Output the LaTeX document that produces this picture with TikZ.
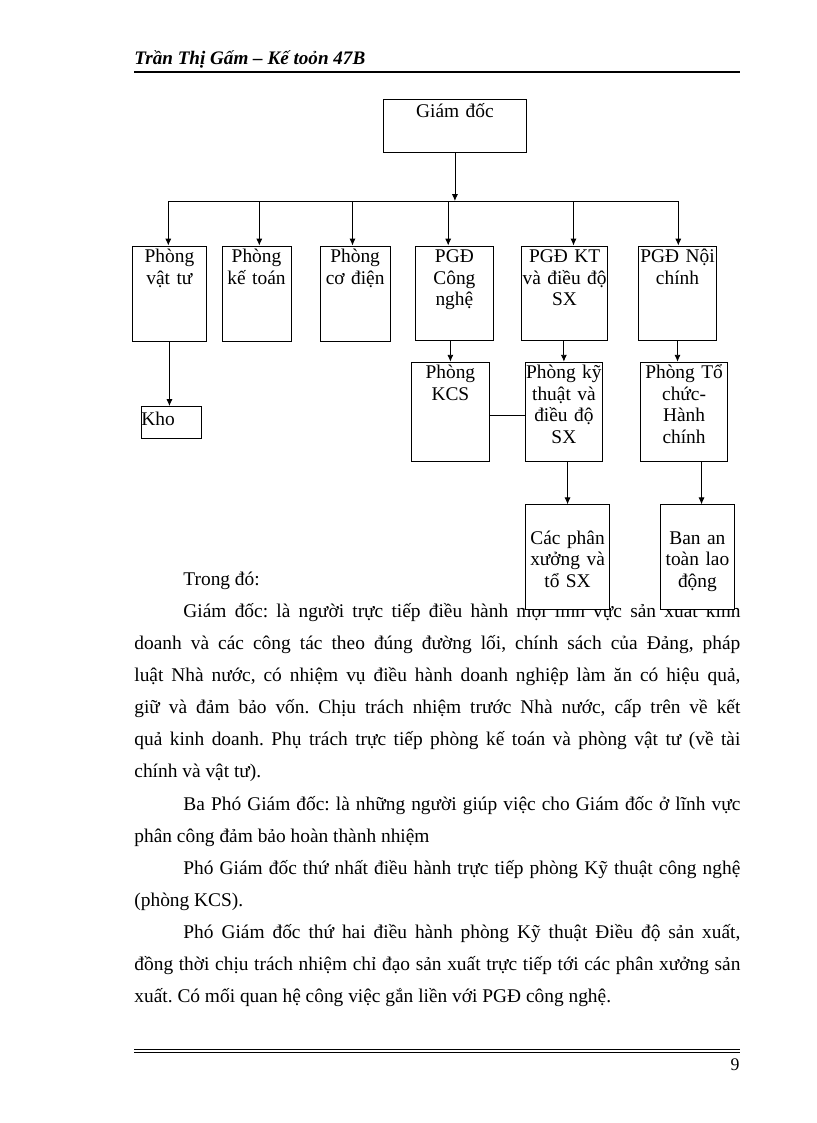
\documentclass[tikz,border=0pt]{standalone}
\usepackage{fontspec}
\setmainfont{Liberation Serif}
\usetikzlibrary{arrows.meta}
\newcommand{\boxfont}{\fontsize{14.2pt}{15.85pt}\selectfont}
\newcommand{\bodyfont}{\fontsize{14.2pt}{23.54pt}\selectfont\frenchspacing}

\begin{document}
\begin{tikzpicture}[x=0.7322pt,y=-0.7322pt,>={Latex[length=5pt,width=4.4pt]},line width=0.6pt,
  box/.style={draw,fill=white,anchor=north west,inner sep=0pt,align=center,font=\boxfont},
  rowone/.style={box,text height=12.15pt},
  rowtwo/.style={box,text height=12.1pt,text depth=60.4pt},
  rowthree/.style={box,text height=28.8pt,text depth=47.9pt},
  para/.style={anchor=base west,inner sep=0pt,text width=443.7pt,align=justify,font=\bodyfont}]
  \useasboundingbox (0,0) rectangle (816,1123);
  \node[anchor=base west,inner sep=0pt,font=\fontsize{14pt}{16pt}\selectfont\bfseries\itshape] (head) at (134,65) {Trần Thị Gấm – Kế toỏn 47B};
  \draw[line width=1.2pt] (134,72) -- (740,72);
  \node[para] (T0) at (134,585) {\hspace*{35.9pt}Trong đó:};
  \node[para] (T1) at (134,617.15) {\hspace*{35.9pt}Giám đốc: là người trực tiếp điều hành mọi lĩnh vực sản xuất kinh\linebreak
    doanh và các công tác theo đúng đường lối, chính sách của Đảng, pháp\linebreak
    luật Nhà nước, có nhiệm vụ điều hành doanh nghiệp làm ăn có hiệu quả,\linebreak
    giữ và đảm bảo vốn. Chịu trách nhiệm trước Nhà nước, cấp trên về kết\linebreak
    quả kinh doanh. Phụ trách trực tiếp phòng kế toán và phòng vật tư (về tài\linebreak
    chính và vật tư).};
  \node[para] (T2) at (134,810.05) {\hspace*{35.9pt}Ba Phó Giám đốc: là những người giúp việc cho Giám đốc ở lĩnh vực\linebreak
    phân công đảm bảo hoàn thành nhiệm};
  \node[para] (T3) at (134,874.35) {\hspace*{35.9pt}Phó Giám đốc thứ nhất điều hành trực tiếp phòng Kỹ thuật công nghệ\linebreak
    (phòng KCS).};
  \node[para] (T4) at (134,938.65) {\hspace*{35.9pt}Phó Giám đốc thứ hai điều hành phòng Kỹ thuật Điều độ sản xuất,\linebreak
    đồng thời chịu trách nhiệm chỉ đạo sản xuất trực tiếp tới các phân xưởng sản\linebreak
    xuất. Có mối quan hệ công việc gắn liền với PGĐ công nghệ.};
  \draw (134,1049.5) -- (740,1049.5);
  \draw (134,1052.5) -- (740,1052.5);
  \node[anchor=base east,inner sep=0pt,font=\fontsize{13pt}{15pt}\selectfont] (page) at (740,1070) {9};

  \node[box,text width=104.7pt,text height=12.8pt,text depth=26pt] (GD) at (383,99.3) {Giám đốc};
  \node[rowone,text width=54.2pt,text depth=57.75pt] (B1) at (132,245.5) {Phòng\\vật tư};
  \node[rowone,text width=50.7pt,text depth=57.75pt] (B2) at (221.5,245.5) {Phòng\\kế toán};
  \node[rowone,text width=51.3pt,text depth=57.75pt] (B3) at (319.7,245.5) {Phòng\\cơ điện};
  \node[rowone,text width=56.5pt,text depth=57.05pt] (B4) at (415.4,245.5) {PGĐ\\Công\\nghệ};
  \node[rowone,text width=62.8pt,text depth=57.05pt] (B5) at (521.3,245.5) {PGĐ KT\\và điều độ\\SX};
  \node[rowone,text width=56.7pt,text depth=57.05pt] (B6) at (638.4,245.5) {PGĐ Nội\\chính};
  \node[box,align=left,text width=43.9pt,text height=13.8pt,text depth=9.8pt] (Kho) at (141,406) {Kho};
  \node[rowtwo,text width=56.5pt] (KCS) at (411.4,361.7) {Phòng\\KCS};
  \node[rowtwo,text width=55.9pt] (Ky) at (525.3,361.7) {Phòng kỹ\\thuật và\\điều độ\\SX};
  \node[rowtwo,text width=63.5pt] (TC) at (640.3,361.7) {Phòng Tổ\\chức-\\Hành\\chính};
  \node[rowthree,text width=61.3pt] (Cac) at (525.3,504.3) {Các phân\\xưởng và\\tổ SX};
  \node[rowthree,text width=54.2pt] (Ban) at (660,504.3) {Ban an\\toàn lao\\động};

  \coordinate (d1) at (168.3,201);
  \coordinate (d2) at (259.3,201);
  \coordinate (d3) at (352.5,201);
  \coordinate (d4) at (448.2,201);
  \coordinate (d5) at (573.5,201);
  \coordinate (d6) at (678.3,201);
  \coordinate (b) at ([xshift=3pt]Ban.north);
  \draw (d1) -- (d6);
  \draw[->] (GD) -- (GD |- d1);
  \foreach \i in {1,...,6}
    \draw[->] (d\i) -- (d\i |- B\i.north);
  \draw[->] (B1) -- (B1 |- Kho.north);
  \draw[->] (B4.south -| KCS.north) -- (KCS.north);
  \draw[->] (B5.south -| Ky.north) -- (Ky.north);
  \draw[->] (B6) -- (B6 |- TC.north);
  \draw ([yshift=-2.8pt]KCS.east) -- ([yshift=-2.8pt]Ky.west);
  \draw[->] (Ky.south -| Cac.north) -- (Cac.north);
  \draw[->] (b |- TC.south) -- (b);
\end{tikzpicture}
\end{document}
